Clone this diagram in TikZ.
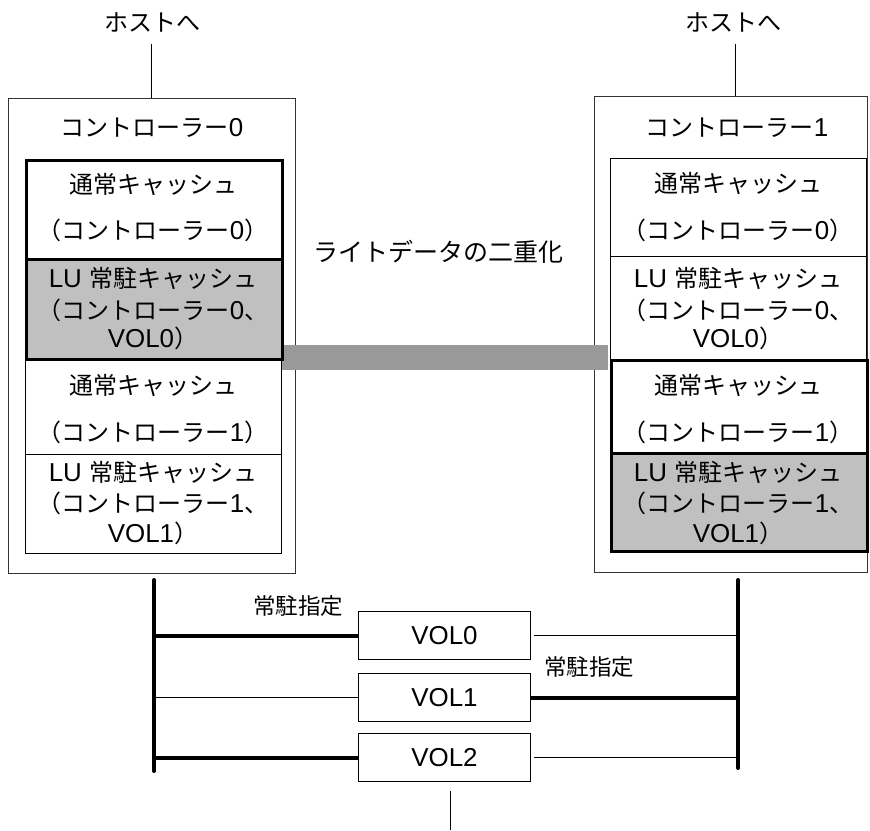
\documentclass[tikz,border=0pt]{standalone}
\usepackage{fontspec}
\setmainfont{Liberation Sans}[Scale=1.08]
\newfontfamily\jp{Noto Sans CJK JP}
\definecolor{lugray}{HTML}{C0C0C0}
\definecolor{bargray}{HTML}{999999}
\begin{document}
\begin{tikzpicture}[x=1pt,y=-1pt,
  frame/.style={draw=black!80, line width=1pt, inner sep=0pt, anchor=north west, minimum width=#1},
  cbox/.style={draw=black, line width=1pt, inner sep=0pt, anchor=north west, minimum width=256pt},
  cboxthick/.style={draw=black, line width=3pt, inner sep=0pt, anchor=north west, minimum width=256pt},
  volbox/.style={draw=black, line width=1pt, inner sep=0pt, anchor=north west, minimum width=172pt, minimum height=48pt},
  lbl/.style={inner sep=0pt, font=\fontsize{24}{28}\selectfont},
  dlbl/.style={inner sep=0pt, font=\fontsize{25}{29}\selectfont},
  slbl/.style={inner sep=0pt, font=\fontsize{22.5}{26}\selectfont},
  thinwire/.style={draw=black, line width=1pt},
  thickwire/.style={draw=black, line width=4pt},
  bus/.style={draw=black, line width=4pt, line cap=round}
]
\useasboundingbox (0,0) rectangle (870,830);

% host labels and lines
\node[lbl] (host0) at (152,22) {{\jp ホストへ}};
\node[lbl] (host1) at (733,22) {{\jp ホストへ}};
\coordinate (h0) at (151,44);
\coordinate (h1) at (735,44);

% outer frames
\node[frame=287pt, minimum height=475pt] (c0) at (8,98) {};
\node[frame=273pt, minimum height=476pt] (c1) at (594,96) {};
\draw[thinwire] (h0) -- (h0 |- c0.north);
\draw[thinwire] (h1) -- (h1 |- c1.north);

\node[lbl] (c0t) at (152,128) {{\jp コントローラー}0};
\node[lbl] (c1t) at (737,128) {{\jp コントローラー}1};

% duplication bar
\node[fill=bargray, inner sep=0pt, anchor=north west, minimum width=326pt, minimum height=25pt] (bar) at (282,345) {};
\node[dlbl] (dup) at (438,252) {{\jp ライトデータの二重化}};

% controller 0 boxes
\node[cbox, minimum height=96pt] (C0c) at (25,358) {};
\node[cbox, minimum height=99pt] (C0d) at (25,454) {};
\node[cboxthick, minimum height=99pt] (C0a) at (25,159) {};
\node[cboxthick, fill=lugray, minimum height=100pt] (C0b) at (25,258) {};

% controller 1 boxes
\node[cbox, minimum height=98pt] (C1a) at (610,158) {};
\node[cbox, minimum height=103pt] (C1b) at (610,256) {};
\node[cboxthick, minimum height=93pt] (C1c) at (610,359) {};
\node[cboxthick, fill=lugray, minimum height=98pt] (C1d) at (610,452) {};

% controller 0 texts
\node[lbl] (a1) at (153,184) {{\jp 通常キャッシュ}};
\node[lbl] (a2) at (153,230) {{\jp （コントローラー}0{\jp ）}};
\node[lbl] (b1) at (153,278) {LU {\jp 常駐キャッシュ}};
\node[lbl] (b2) at (153,310) {{\jp （コントローラー}0{\jp 、}};
\node[lbl] (b3) at (153,338) {VOL0{\jp ）}};
\node[lbl] (cc1) at (153,385) {{\jp 通常キャッシュ}};
\node[lbl] (cc2) at (153,432) {{\jp （コントローラー}1{\jp ）}};
\node[lbl] (d1) at (153,472) {LU {\jp 常駐キャッシュ}};
\node[lbl] (d2) at (153,503) {{\jp （コントローラー}1{\jp 、}};
\node[lbl] (d3) at (153,533) {VOL1{\jp ）}};

% controller 1 texts
\node[lbl] (e1) at (738,183) {{\jp 通常キャッシュ}};
\node[lbl] (e2) at (738,230) {{\jp （コントローラー}0{\jp ）}};
\node[lbl] (f1) at (738,278) {LU {\jp 常駐キャッシュ}};
\node[lbl] (f2) at (738,310) {{\jp （コントローラー}0{\jp 、}};
\node[lbl] (f3) at (738,338) {VOL0{\jp ）}};
\node[lbl] (g1) at (738,385) {{\jp 通常キャッシュ}};
\node[lbl] (g2) at (738,432) {{\jp （コントローラー}1{\jp ）}};
\node[lbl] (h1t) at (738,472) {LU {\jp 常駐キャッシュ}};
\node[lbl] (h2t) at (738,503) {{\jp （コントローラー}1{\jp 、}};
\node[lbl] (h3t) at (738,533) {VOL1{\jp ）}};

% buses
\coordinate (lbT) at (154,580);
\coordinate (lbB) at (154,771);
\coordinate (rbT) at (738,580);
\coordinate (rbB) at (738,768);
\draw[bus] (lbT) -- (lbB);
\draw[bus] (rbT) -- (rbB);

% volumes
\node[volbox] (v0) at (358,611) {};
\node[volbox] (v1) at (358,673) {};
\node[volbox] (v2) at (358,733) {};
\node[lbl] (v0t) at (v0.center) {VOL0};
\node[lbl] (v1t) at (v1.center) {VOL1};
\node[lbl] (v2t) at (v2.center) {VOL2};

\draw[thickwire] (v0.west) -- (v0.west -| lbT);
\draw[thinwire] ([xshift=3pt]v0.east) -- (v0.east -| rbT);
\draw[thinwire] (v1.west) -- (v1.west -| lbT);
\draw[thickwire] (v1.east) -- (v1.east -| rbT);
\draw[thickwire] (v2.west) -- (v2.west -| lbT);
\draw[thinwire] ([xshift=3pt]v2.east) -- (v2.east -| rbT);

\node[slbl] (res0) at (298,606) {{\jp 常駐指定}};
\node[slbl] (res1) at (589,667) {{\jp 常駐指定}};

\coordinate (down) at (450,830);
\draw[thinwire] (v2.south -| down) ++(0,9) coordinate (downT) (downT) -- (down);
\end{tikzpicture}
\end{document}
